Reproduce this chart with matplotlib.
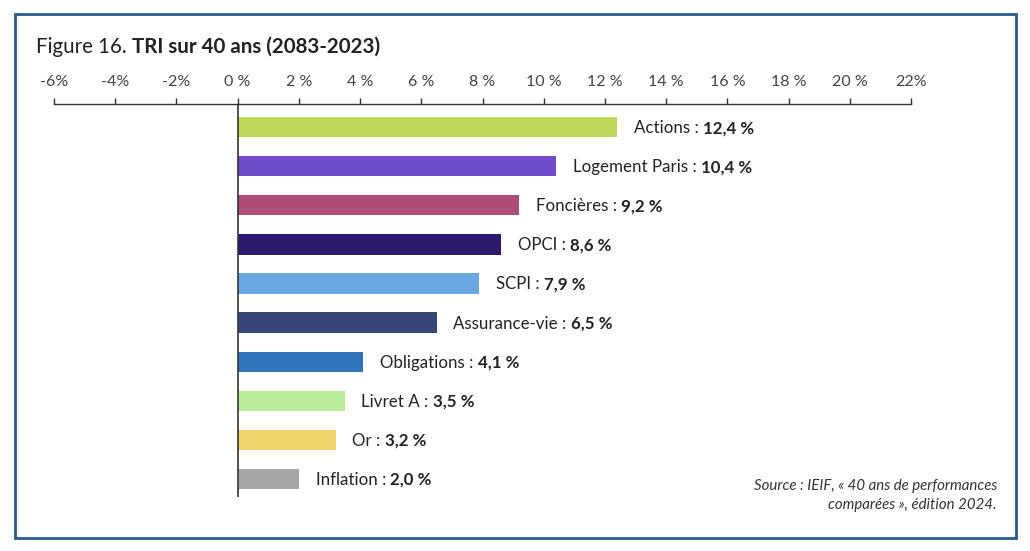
import matplotlib.pyplot as plt
from matplotlib.patches import Rectangle

plt.rcParams["font.family"] = ["Lato", "DejaVu Sans"]

CATEGORIES = ["Actions", "Logement Paris", "Foncières", "OPCI", "SCPI",
              "Assurance-vie", "Obligations", "Livret A", "Or", "Inflation"]
VALUES = [12.4, 10.4, 9.2, 8.6, 7.9, 6.5, 4.1, 3.5, 3.2, 2.0]
COLORS = ["#c0d85a", "#6f4ccc", "#ae4e78", "#2d1a6c", "#6aa8e4",
          "#374677", "#2e76b9", "#b9eb9d", "#efd26a", "#a6a6a6"]
TICKS = [-6, -4, -2, 0, 2, 4, 6, 8, 10, 12, 14, 16, 18, 20, 22]
TICK_LABELS = ["-6%", "-4%", "-2%", "0 %", "2 %", "4 %", "6 %", "8 %", "10 %",
               "12 %", "14 %", "16 %", "18 %", "20 %", "22%"]

TEXT = "#222222"
LABEL_SIZE = 12.2
BASE_DROP = -4.3  # points, puts the baseline so the text sits centred on the bar

fig = plt.figure(figsize=(10.30, 5.51), dpi=100)
ax = fig.add_axes([54 / 1030, 1 - 497 / 551, (911 - 54) / 1030, (497 - 104) / 551])

ypos = list(range(len(CATEGORIES)))
ax.barh(ypos, VALUES, height=0.52, color=COLORS)
ax.set_xlim(-6, 22)
ax.set_ylim(9.46, -0.59)

ax.xaxis.tick_top()
ax.set_xticks(TICKS, TICK_LABELS)
ax.tick_params(axis="x", length=4, width=1, color="#333333", labelsize=11.5,
               labelcolor="#444444", pad=7)
ax.set_yticks([])
for side in ("left", "right", "bottom"):
    ax.spines[side].set_visible(False)
ax.spines["top"].set_color("#333333")
ax.spines["top"].set_linewidth(1)
ax.axvline(0, color="#333333", lw=1.2)

for y, name, v in zip(ypos, CATEGORIES, VALUES):
    t1 = ax.annotate(f"{name} : ", xy=(v, y), xytext=(12, BASE_DROP),
                     textcoords="offset points", ha="left", va="baseline",
                     fontsize=LABEL_SIZE, color=TEXT)
    ax.annotate(f"{v:.1f} %".replace(".", ","), xy=(1, y), xycoords=(t1, "data"),
                xytext=(0, BASE_DROP), textcoords="offset points",
                ha="left", va="baseline", fontsize=LABEL_SIZE, fontweight="bold", color=TEXT)

# title: normal prefix + bold part
t = fig.text(36 / 1030, 1 - 47 / 551, "Figure 16. ", fontsize=14.8, color=TEXT,
             ha="left", va="center")
ax.annotate("TRI sur 40 ans (2083-2023)", xy=(1, 0), xycoords=t, ha="left", va="bottom",
            fontsize=14.8, fontweight="bold", color=TEXT, annotation_clip=False)

fig.text(997 / 1030, 1 - 486 / 551, "Source : IEIF, « 40 ans de performances",
         ha="right", va="center", fontsize=10.8, style="italic", color="#333333")
fig.text(997 / 1030, 1 - 505 / 551, "comparées », édition 2024.",
         ha="right", va="center", fontsize=10.8, style="italic", color="#333333")

fig.patches.append(Rectangle((15 / 1030, 1 - 538 / 551), 1001 / 1030, 524 / 551,
                             transform=fig.transFigure, fill=False,
                             edgecolor="#2b5a8f", lw=2))

fig.savefig("out.png", dpi=100)
